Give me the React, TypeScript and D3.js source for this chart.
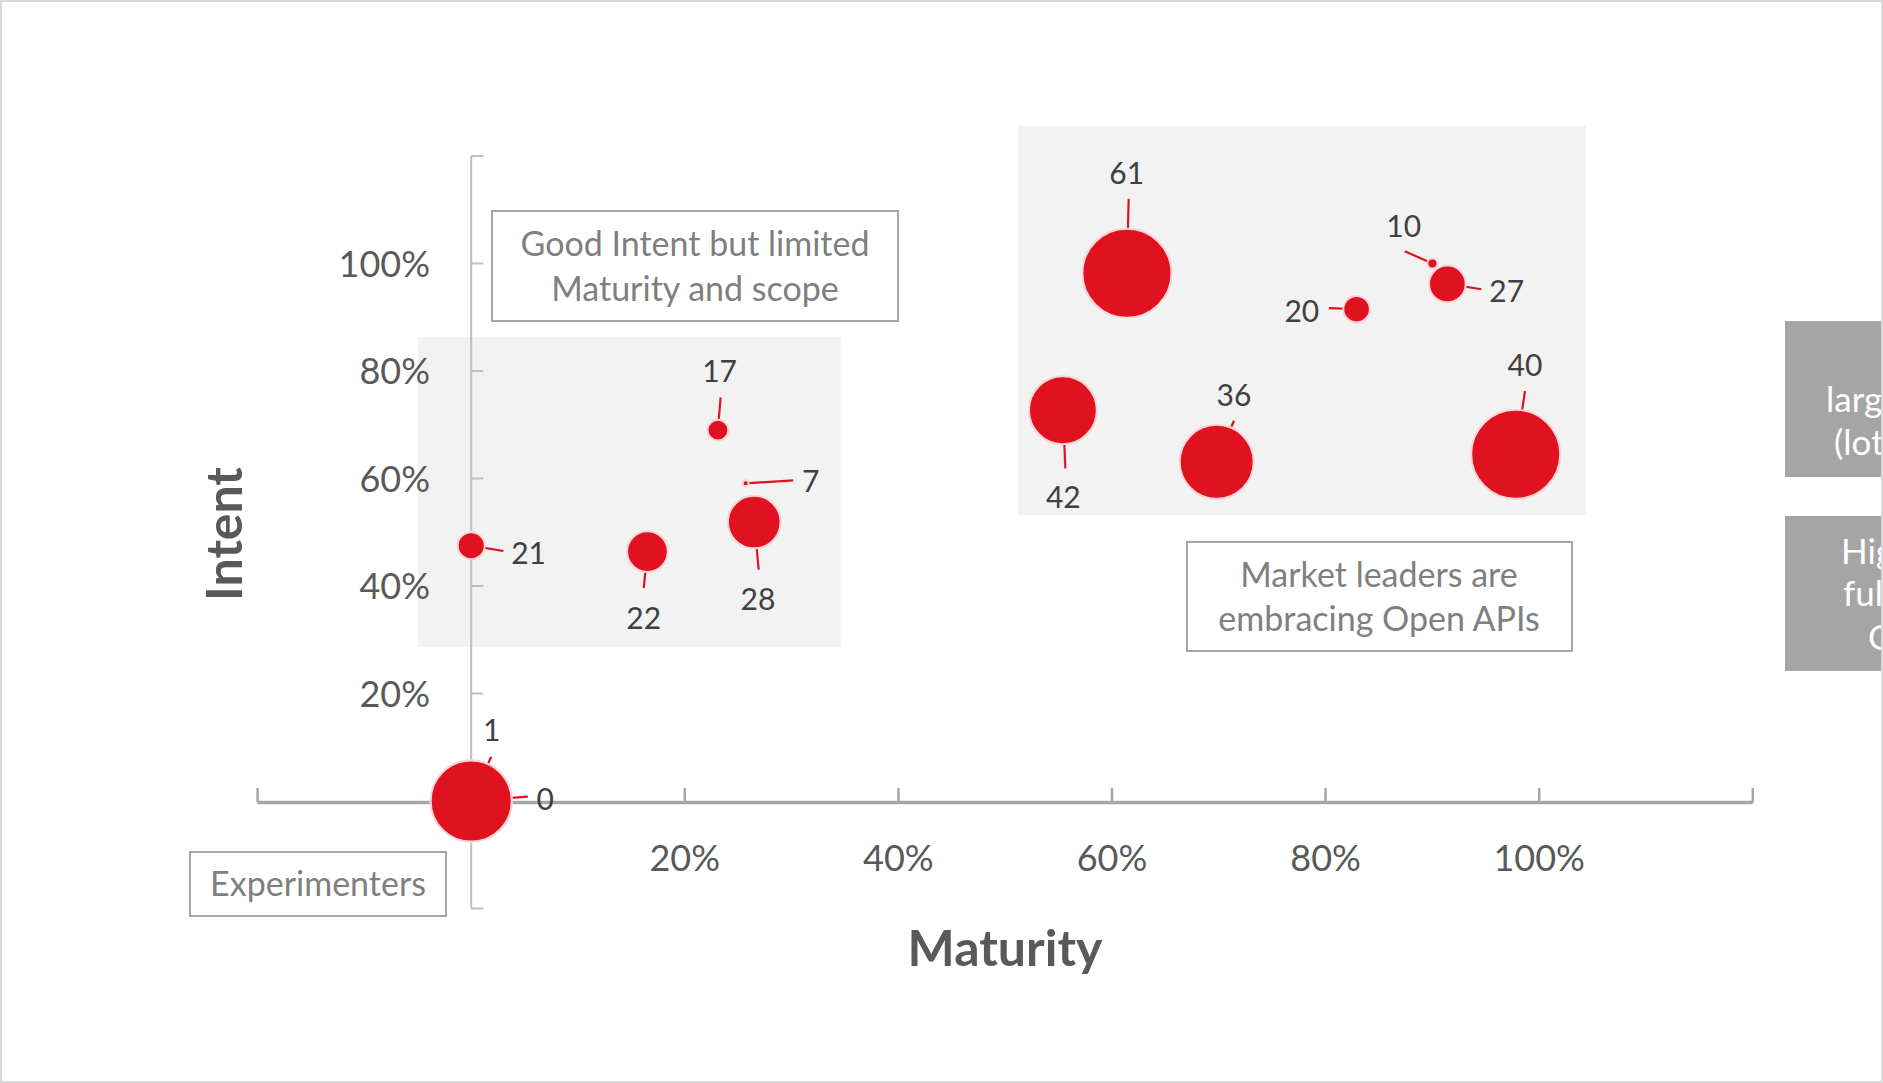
import React from "react";
import * as d3 from "d3";

const W = 1883;
const H = 1083;

// ---- data ----
const pointLabels = ["61", "20", "10", "27", "42", "36", "40", "17", "7", "28", "22", "21", "1", "0"];
const maturity = [0.614, 0.829, 0.9, 0.914, 0.554, 0.698, 0.978, 0.231, 0.257, 0.265, 0.165, 0.0, 0.0, 0.0];
const intent = [0.982, 0.915, 1.0, 0.962, 0.727, 0.631, 0.645, 0.69, 0.591, 0.519, 0.464, 0.475, 0.0, 0.0];
const bubbleSize = [100, 8.9, 1.3, 17, 58, 69, 100, 5.4, 0.45, 35, 21, 9.2, 83, 83];

const axisTicks = [-0.2, 0, 0.2, 0.4, 0.6, 0.8, 1.0, 1.2];
const labelledTicks = [0.2, 0.4, 0.6, 0.8, 1.0];

// annotation regions in data units [x0, x1, y0, y1]
const leftRegion = [-0.05, 0.346, 0.287, 0.863];
const rightRegion = [0.512, 1.044, 0.532, 1.256];

// label placement relative to bubble centre (px): [labelDx, labelDy, leaderDx, leaderDy]
const labelPlacement = [
  [-0.3, -99.6, 1.7, -74.3],
  [-54.7, 2.4, -27.7, -1],
  [-28.7, -37.3, -27.7, -12.3],
  [59.3, 7.7, 34, 5.3],
  [0.5, 87.5, 2.5, 58.2],
  [17.3, -66.1, 17.3, -41.1],
  [9.3, -89.3, 9.3, -63.3],
  [1.7, -58.6, 2.7, -32.6],
  [65, -1.6, 47.6, -3],
  [3.8, 77.7, 4.5, 47.7],
  [-3.7, 66.6, -3.7, 36.6],
  [57.4, 7.6, 32.2, 5.3],
  [20.6, -70.3, 20, -44.3],
  [74, -2, 56.6, -4.3],
];

const FONT = "Lato, 'Open Sans', sans-serif";
const RED = "#e1121f";

export default function App() {
  const x = d3.scaleLinear().domain([-0.2, 1.2]).range([257.6, 1752.8]);
  const y = d3.scaleLinear().domain([-0.2, 1.2]).range([908.5, 156]);
  const r = d3.scaleSqrt().domain([0, 100]).range([0, 44.5]);
  const fmt = d3.format(".0%");

  const x0 = x(0);
  const y0 = y(0);

  const pts = pointLabels.map((lab, i) => ({
    lab,
    cx: x(maturity[i]),
    cy: y(intent[i]),
    rr: r(bubbleSize[i]),
    p: labelPlacement[i],
  }));

  const region = (rg: number[], key: string) => (
    <rect
      key={key}
      x={x(rg[0])}
      y={y(rg[3])}
      width={x(rg[1]) - x(rg[0])}
      height={y(rg[2]) - y(rg[3])}
      fill="#f2f2f2"
    />
  );

  return (
    <svg
      width={W}
      height={H}
      style={{ position: "absolute", left: 0, top: 0, display: "block" }}
      fontFamily={FONT}
    >
      <defs>
        <clipPath id="chartClip">
          <rect x={0} y={0} width={1882} height={H} />
        </clipPath>
      </defs>
      <rect x={0} y={0} width={W} height={H} fill="#ffffff" />

      {region(leftRegion, "lr")}
      {region(rightRegion, "rr")}

      {/* y axis */}
      <line x1={x0} x2={x0} y1={y(1.2)} y2={y(-0.2)} stroke="#bfbfbf" strokeWidth={2} />
      {axisTicks.map((t) => (
        <line key={"yt" + t} x1={x0} x2={x0 + 12} y1={y(t)} y2={y(t)} stroke="#bfbfbf" strokeWidth={2} />
      ))}

      {/* x axis */}
      <line x1={x(-0.2)} x2={x(1.2)} y1={y0 + 1.5} y2={y0 + 1.5} stroke="#a6a6a6" strokeWidth={3.5} />
      {axisTicks.map((t) => (
        <line key={"xt" + t} x1={x(t)} x2={x(t)} y1={y0 + 1.5} y2={y0 - 13} stroke="#a6a6a6" strokeWidth={2.5} />
      ))}

      {/* text boxes */}
      <g fill="#ffffff" stroke="#a6a6a6" strokeWidth={2}>
        <rect x={492} y={211} width={406} height={110} />
        <rect x={1187} y={542} width={385} height={109} />
        <rect x={190} y={852} width={256} height={64} />
      </g>
      <g fill="#7f7f7f" fontSize={34} textAnchor="middle">
        <text x={695} y={256}>Good Intent but limited</text>
        <text x={695} y={301}>Maturity and scope</text>
        <text x={1379} y={587}>Market leaders are</text>
        <text x={1379} y={631}>embracing Open APIs</text>
        <text x={318} y={896}>Experimenters</text>
      </g>

      {/* leader lines */}
      {pts.map((d, i) => (
        <line
          key={"ll" + i}
          x1={d.cx + d.p[2]}
          y1={d.cy + d.p[3]}
          x2={d.cx}
          y2={d.cy}
          stroke={RED}
          strokeWidth={2.2}
        />
      ))}

      {/* bubbles */}
      {pts.map((d, i) => (
        <circle key={"b" + i} cx={d.cx} cy={d.cy} r={d.rr} fill={RED} stroke="#fad4d6" strokeWidth={2} />
      ))}

      {/* data labels */}
      {pts.map((d, i) => (
        <text
          key={"dl" + i}
          x={d.cx + d.p[0]}
          y={d.cy + d.p[1] + 10.5}
          textAnchor="middle"
          fontSize={30}
          fill="#404040"
        >
          {d.lab}
        </text>
      ))}

      {/* tick labels */}
      {labelledTicks.map((t) => (
        <text key={"yl" + t} x={430} y={y(t) + 13} textAnchor="end" fontSize={36} fill="#595959">
          {fmt(t)}
        </text>
      ))}
      {labelledTicks.map((t) => (
        <text key={"xl" + t} x={x(t)} y={871} textAnchor="middle" fontSize={36} fill="#595959">
          {fmt(t)}
        </text>
      ))}

      {/* axis titles */}
      <text x={1005} y={966} textAnchor="middle" fontSize={50} fontWeight="bold" fill="#595959">
        Maturity
      </text>
      <text
        transform="translate(242,534) rotate(-90)"
        textAnchor="middle"
        fontSize={50}
        fontWeight="bold"
        fill="#595959"
      >
        Intent
      </text>

      {/* right side boxes (cut off by the chart edge, as in the source) */}
      <g clipPath="url(#chartClip)">
        <rect x={1785} y={321} width={220} height={156} fill="#a5a5a5" />
        <rect x={1785} y={516} width={220} height={155} fill="#a5a5a5" />
        <g fill="#ffffff" fontSize={35}>
          <text x={1826} y={412}>large</text>
          <text x={1834} y={455}>(lots</text>
          <text x={1841} y={564}>High</text>
          <text x={1843} y={606}>full</text>
          <text x={1868} y={650}>Open</text>
        </g>
      </g>

      {/* outer border */}
      <rect x={1} y={1} width={1881} height={1081} fill="none" stroke="#d9d9d9" strokeWidth={2} />
    </svg>
  );
}
